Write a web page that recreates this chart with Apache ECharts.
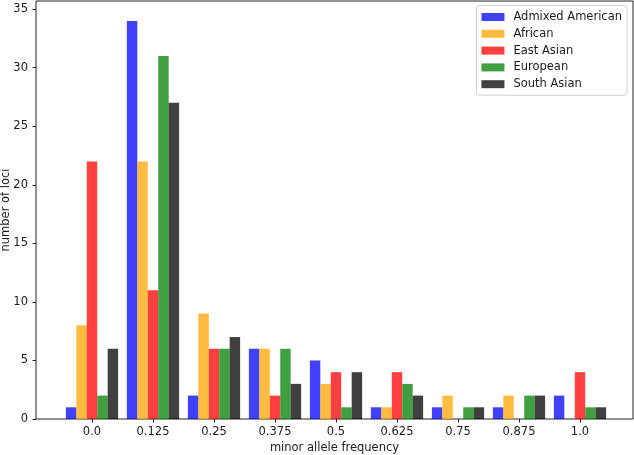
<!DOCTYPE html>
<html>
<head>
<meta charset="utf-8">
<script src="https://cdn.jsdelivr.net/npm/echarts@6/dist/echarts.min.js"></script>
<style>html,body{margin:0;padding:0;background:#fff}#c{width:634px;height:455px}</style>
</head>
<body>
<div id="c"></div>
<script>
const categories = ['0.0','0.125','0.25','0.375','0.5','0.625','0.75','0.875','1.0'];
const seriesNames = ['Admixed American','African','East Asian','European','South Asian'];
const admixedAmerican = [1,34,2,6,5,1,1,1,2];
const african = [8,22,9,6,3,1,2,2,0];
const eastAsian = [22,11,6,2,4,4,0,0,4];
const european = [2,31,6,6,1,3,1,2,1];
const southAsian = [6,27,7,3,4,2,1,2,1];
const yTicks = [0,5,10,15,20,25,30,35];
const colors = ['rgba(0,0,255,0.75)','rgba(255,165,0,0.75)','rgba(255,0,0,0.75)','rgba(0,128,0,0.75)','rgba(0,0,0,0.75)'];
const values = [admixedAmerican, african, eastAsian, european, southAsian];
const yMax = 35.7;
const txt = '#1a1a1a';
const font = 'DejaVu Sans';
const fs = 11.5;

const chart = echarts.init(document.getElementById('c'), null, {renderer:'canvas'});
chart.setOption({
  animation:false,
  backgroundColor:'#fff',
  textStyle:{fontFamily:font},
  grid:[
    {left:36, right:1, top:1, bottom:36, show:true, borderColor:'#222', borderWidth:1, backgroundColor:'transparent', outerBoundsMode:'none', containLabel:false},
    {left:61.5, width:549, top:1, bottom:36, outerBoundsMode:'none', containLabel:false}
  ],
  xAxis:[
    {gridIndex:0, type:'value', min:0, max:1, show:true,
     axisLine:{show:false}, axisTick:{show:false}, axisLabel:{show:false}, splitLine:{show:false},
     name:'minor allele frequency', nameLocation:'middle', nameGap:23, nameMoveOverlap:false,
     nameTextStyle:{fontFamily:font, fontSize:fs, color:txt}},
    {gridIndex:1, type:'category', data:categories, boundaryGap:true,
     axisLine:{show:false}, axisTick:{show:true, alignWithLabel:true, inside:false, length:3.5, lineStyle:{color:'#222'}},
     axisLabel:{fontFamily:font, fontSize:fs, color:txt, margin:7, interval:0}, splitLine:{show:false}}
  ],
  yAxis:[
    {gridIndex:0, type:'value', min:0, max:yMax,
     axisLine:{show:false},
     axisLabel:{fontFamily:font, fontSize:fs, color:txt, margin:8,
       customValues:yTicks, formatter:v=>String(v)},
     axisTick:{show:true, length:3.5, lineStyle:{color:'#222'}, customValues:yTicks},
     splitLine:{show:false},
     name:'number of loci', nameLocation:'middle', nameGap:24, nameMoveOverlap:false,
     nameTextStyle:{fontFamily:font, fontSize:fs, color:txt}},
    {gridIndex:1, type:'value', min:0, max:yMax, show:false, splitLine:{show:false}}
  ],
  legend:{
    orient:'vertical', right:7, top:5.5,
    backgroundColor:'#fff', borderColor:'#d0d0d0', borderWidth:1, borderRadius:3,
    padding:[5.5,5,5,5], itemGap:4.8, itemWidth:23, itemHeight:8, icon:'rect',
    textStyle:{fontFamily:font, fontSize:fs, color:txt, padding:[0,0,0,4]},
    data:seriesNames
  },
  series: seriesNames.map((n,i)=>({
    name:n, type:'bar', xAxisIndex:1, yAxisIndex:1,
    data:values[i], barWidth:10.45, barGap:'0%',
    itemStyle:{color:colors[i]}
  }))
});
</script>
</body>
</html>
